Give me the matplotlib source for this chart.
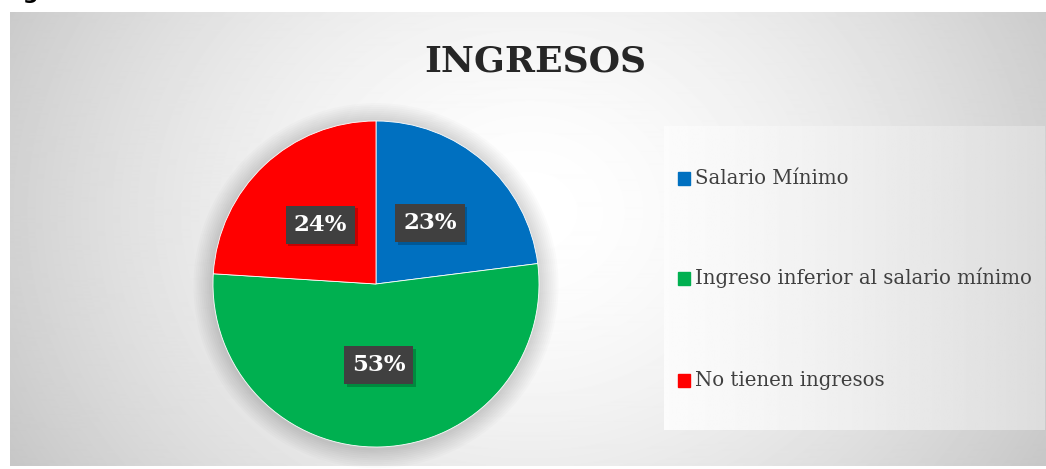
import numpy as np
import matplotlib

matplotlib.use("Agg")
import matplotlib.pyplot as plt
import matplotlib.patheffects as pe

categories = ["Salario Mínimo", "Ingreso inferior al salario mínimo", "No tienen ingresos"]
values = [23, 53, 24]
colors = ["#0070c0", "#00b050", "#ff0000"]
title = "INGRESOS"

W, H = 1046, 469
SERIF = ["DejaVu Serif"]
TEXT = "#404040"


def px_axes(fig, x0, y0, x1, y1):
    # rectangle given in pixel coords from the top-left corner
    return fig.add_axes([x0 / W, 1 - y1 / H, (x1 - x0) / W, (y1 - y0) / H])


fig = plt.figure(figsize=(W / 100, H / 100), dpi=100)
fig.patch.set_facecolor("white")

# chart area with radial gradient
bg = px_axes(fig, 10, 12, W, 466)
yy, xx = np.mgrid[0:454, 0:1036]
d = np.sqrt(((xx - 520) / 660.0) ** 2 + ((yy - 200) / 560.0) ** 2)
shade = np.clip(1.0 - 0.26 * d ** 1.6, 0.76, 1.0)
bg.imshow(shade, cmap="gray", vmin=0, vmax=1, aspect="auto", interpolation="bilinear")
bg.set_axis_off()

# "Figura" caption cut by the top edge
fig.text(0.0, 1.0 + 1 / H, "Figura", fontsize=16, fontweight="bold",
         color="black", va="baseline", ha="left")

fig.text(535 / W, 1 - 62 / H, title, fontsize=26, fontweight="bold",
         family=SERIF, color="#262626", ha="center", va="center")

# legend panel
lg = px_axes(fig, 664, 126, 1045, 430)
gx = np.linspace(0, 1, 200)
panel = 0.985 - 0.12 * gx ** 1.2
lg.imshow(panel[None, :], cmap="gray", vmin=0, vmax=1, aspect="auto",
          extent=(0, 1, 0, 1), interpolation="bilinear")
lg.set_xlim(0, 1)
lg.set_ylim(0, 1)
lg.set_axis_off()
for cat, col, ypx in zip(categories, colors, [178, 278, 380]):
    yf = 1 - (ypx - 126) / (430 - 126)
    lg.add_patch(plt.Rectangle((14 / 381, yf - 6.5 / 304), 12 / 381, 13 / 304,
                               color=col, transform=lg.transAxes))
    lg.text(31 / 381, yf, cat, fontsize=14.2, family=SERIF, color=TEXT,
            va="center", ha="left", transform=lg.transAxes)

# pie
R = 163
ax = px_axes(fig, 376 - R, 284 - R, 376 + R, 284 + R)
for k in range(10):
    ax.add_patch(plt.Circle((0.0, -0.01), 1.0 + 0.012 * (k + 1), color="black",
                            alpha=0.014, lw=0, zorder=0, clip_on=False))
wedges, texts = ax.pie(values, colors=colors, startangle=90, counterclock=False,
                       radius=1.0, wedgeprops=dict(linewidth=0.6, edgecolor="white"))
for w, v in zip(wedges, values):
    ang = np.deg2rad((w.theta1 + w.theta2) / 2)
    t = ax.text(0.5 * np.cos(ang), 0.5 * np.sin(ang), f"{v}%",
                fontsize=16.5, fontweight="bold", family=SERIF, color="white",
                ha="center", va="center",
                bbox=dict(boxstyle="square,pad=0.35", fc="#404040", ec="none"))
    t.get_bbox_patch().set_path_effects(
        [pe.SimplePatchShadow(offset=(2, -2), shadow_rgbFace="black", alpha=0.22),
         pe.Normal()])
ax.set_xlim(-1, 1)
ax.set_ylim(-1, 1)
ax.set_aspect("equal")
ax.set_axis_off()

fig.savefig("out.png", dpi=100)
